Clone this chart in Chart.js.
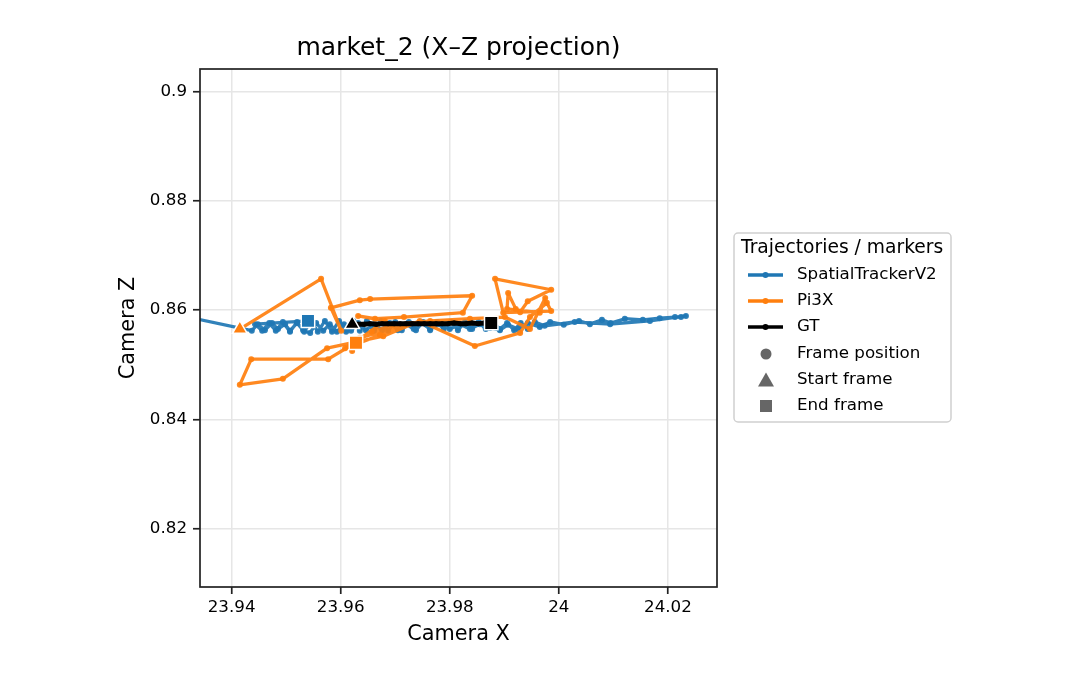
<!DOCTYPE html>
<html>
<head>
<meta charset="utf-8">
<script src="https://cdn.jsdelivr.net/npm/chart.js@4.4.1/dist/chart.umd.min.js"></script>
<style>
  html, body { margin: 0; padding: 0; background: #fff; }
  #canvas { display: block; }
</style>
</head>
<body>
<canvas id="canvas" width="1080" height="690"></canvas>
<script>
// Trajectory data (camera X / camera Z)
const stX = [23.9250, 23.9437, 23.9448, 23.9461, 23.9474, 23.9485, 23.9498, 23.9507, 23.9520, 23.9531,
  23.9544, 23.9555, 23.9568, 23.9580, 23.9593, 23.9606, 23.9619, 23.9632, 23.9646, 23.9661,
  23.9676, 23.9690, 23.9705, 23.9720, 23.9734, 23.9749, 23.9764, 23.9782, 23.9800, 23.9819,
  23.9837, 23.9855, 23.9874, 23.9892, 23.9907, 23.9925, 23.9943, 23.9965, 23.9984, 24.0009,
  24.0037, 24.0057, 24.0079, 24.0095, 24.0121, 24.0154, 24.0185, 24.0213, 24.0224, 24.0233,
  24.0167, 24.0094, 24.0029, 23.9974, 23.9956, 23.9943, 23.9930, 23.9918, 23.9905, 23.9892,
  23.9879, 23.9866, 23.9853, 23.9841, 23.9828, 23.9815, 23.9802, 23.9789, 23.9777, 23.9764,
  23.9751, 23.9738, 23.9725, 23.9712, 23.9700, 23.9687, 23.9674, 23.9661, 23.9648, 23.9635,
  23.9623, 23.9610, 23.9597, 23.9584, 23.9571, 23.9558, 23.9546, 23.9533, 23.9520, 23.9507,
  23.9494, 23.9481, 23.9469, 23.9456, 23.9443, 23.9540];
const stZ = [0.8602, 0.8562, 0.8574, 0.8563, 0.8576, 0.8565, 0.8574, 0.8562, 0.8576, 0.8563,
  0.8558, 0.8576, 0.8562, 0.8574, 0.8560, 0.8574, 0.8562, 0.8576, 0.8563, 0.8574,
  0.8563, 0.8576, 0.8563, 0.8574, 0.8565, 0.8576, 0.8565, 0.8574, 0.8565, 0.8574,
  0.8565, 0.8574, 0.8567, 0.8563, 0.8573, 0.8565, 0.8576, 0.8569, 0.8578, 0.8573,
  0.8580, 0.8574, 0.8582, 0.8576, 0.8584, 0.8582, 0.8585, 0.8587, 0.8587, 0.8589,
  0.8580, 0.8574, 0.8578, 0.8571, 0.8578, 0.8565, 0.8576, 0.8563, 0.8576, 0.8565,
  0.8578, 0.8565, 0.8578, 0.8565, 0.8578, 0.8563, 0.8578, 0.8565, 0.8578, 0.8563,
  0.8578, 0.8563, 0.8578, 0.8563, 0.8578, 0.8562, 0.8580, 0.8562, 0.8580, 0.8562,
  0.8580, 0.8560, 0.8580, 0.8560, 0.8580, 0.8560, 0.8580, 0.8560, 0.8578, 0.8560,
  0.8578, 0.8562, 0.8576, 0.8562, 0.8574, 0.8580];

const piX = [23.9415, 23.9564, 23.9601, 23.9582, 23.9635, 23.9654, 23.9841, 23.9824, 23.9716, 23.9663,
  23.9632, 23.9681, 23.9617, 23.9577, 23.9436, 23.9415, 23.9494, 23.9575, 23.9678, 23.9745,
  23.9846, 23.9929, 23.9947, 23.9978, 23.9986, 23.9898, 23.9883, 23.9986, 23.9943, 23.9929,
  23.9921, 23.9907, 23.9905, 23.9965, 23.9975, 23.9947, 23.9901, 23.9837, 23.9764, 23.9696,
  23.9657, 23.9608, 23.9672, 23.9718, 23.9635, 23.9621, 23.9628];
const piZ = [0.8565, 0.8657, 0.8562, 0.8604, 0.8618, 0.8620, 0.8626, 0.8595, 0.8587, 0.8584,
  0.8589, 0.8580, 0.8534, 0.8510, 0.8510, 0.8463, 0.8474, 0.8530, 0.8552, 0.8580,
  0.8534, 0.8558, 0.8587, 0.8613, 0.8598, 0.8595, 0.8657, 0.8637, 0.8616, 0.8596,
  0.8602, 0.8631, 0.8602, 0.8595, 0.8622, 0.8565, 0.8587, 0.8584, 0.8580, 0.8573,
  0.8560, 0.8530, 0.8554, 0.8573, 0.8549, 0.8525, 0.8540];

const gtX = [23.9621, 23.9632, 23.9643, 23.9654, 23.9665, 23.9676, 23.9687, 23.9698, 23.9709, 23.9720,
  23.9731, 23.9742, 23.9753, 23.9764, 23.9775, 23.9786, 23.9797, 23.9808, 23.9819, 23.9830,
  23.9841, 23.9852, 23.9863, 23.9876];
const gtZ = [0.8574, 0.8574, 0.8574, 0.8575, 0.8574, 0.8575, 0.8575, 0.8575, 0.8575, 0.8575,
  0.8575, 0.8575, 0.8575, 0.8575, 0.8575, 0.8575, 0.8575, 0.8576, 0.8575, 0.8575,
  0.8576, 0.8575, 0.8576, 0.8576];

const xTicks = [23.94, 23.96, 23.98, 24.0, 24.02];
const yTicks = [0.82, 0.84, 0.86, 0.88, 0.9];

const BLUE = "#1f77b4";
const ORANGE = "#ff7f0e";
const FONT = "DejaVu Sans";

// zip x/z arrays into points
function pts(xs, zs) {
  return xs.map((x, i) => ({ x: x, y: zs[i] }));
}
function first(xs, zs) {
  return { x: xs[0], y: zs[0] };
}
function last(xs, zs) {
  return { x: xs[xs.length - 1], y: zs[zs.length - 1] };
}

function trajectory(label, xs, zs, color, width, radius, order) {
  return {
    label: label,
    data: pts(xs, zs),
    showLine: true,
    borderColor: color,
    backgroundColor: color,
    borderWidth: width,
    borderJoinStyle: "round",
    borderCapStyle: "round",
    pointRadius: radius,
    pointBorderWidth: 0,
    pointBackgroundColor: color,
    pointHoverRadius: radius,
    clip: 0,
    order: order,
  };
}

function marker(label, points, colors, style, radius) {
  return {
    label: label,
    data: points,
    showLine: false,
    pointStyle: style,
    pointRadius: radius,
    pointHoverRadius: radius,
    pointBackgroundColor: colors,
    pointBorderColor: "#ffffff",
    pointBorderWidth: 1.5,
    clip: 0,
    order: 0,
  };
}

// background, title, axis titles, frame and legend
const decor = {
  id: "decor",
  beforeDraw(chart) {
    const ctx = chart.ctx;
    ctx.save();
    ctx.fillStyle = "#fff";
    ctx.fillRect(0, 0, chart.width, chart.height);
    ctx.restore();
  },
  afterDatasetsDraw(chart) {
    const ctx = chart.ctx;
    const a = chart.chartArea;
    ctx.save();
    ctx.strokeStyle = "#222";
    ctx.lineWidth = 1.7;
    ctx.strokeRect(a.left, a.top, a.right - a.left, a.bottom - a.top);

    const cx = (a.left + a.right) / 2;
    ctx.fillStyle = "#000";
    ctx.textAlign = "center";
    ctx.textBaseline = "middle";
    ctx.font = "25px '" + FONT + "'";
    ctx.fillText("market_2 (X\u2013Z projection)", cx, 48);

    ctx.font = "20.8px '" + FONT + "'";
    ctx.fillText("Camera X", cx, 635);
    ctx.save();
    ctx.translate(129, (a.top + a.bottom) / 2);
    ctx.rotate(-Math.PI / 2);
    ctx.fillText("Camera Z", 0, 0);
    ctx.restore();

    drawLegend(ctx);
    ctx.restore();
  },
};

function drawLegend(ctx) {
  const bx = 734, by = 233, bw = 217, bh = 189, r = 4;
  ctx.beginPath();
  ctx.moveTo(bx + r, by);
  ctx.arcTo(bx + bw, by, bx + bw, by + bh, r);
  ctx.arcTo(bx + bw, by + bh, bx, by + bh, r);
  ctx.arcTo(bx, by + bh, bx, by, r);
  ctx.arcTo(bx, by, bx + bw, by, r);
  ctx.closePath();
  ctx.fillStyle = "rgba(255,255,255,0.85)";
  ctx.fill();
  ctx.strokeStyle = "#d0d0d0";
  ctx.lineWidth = 1.5;
  ctx.stroke();

  ctx.fillStyle = "#000";
  ctx.textAlign = "left";
  ctx.textBaseline = "middle";
  ctx.font = "18.7px '" + FONT + "'";
  ctx.fillText("Trajectories / markers", 741, 248);

  ctx.font = "16.7px '" + FONT + "'";
  const lines = [
    ["SpatialTrackerV2", BLUE, 275],
    ["Pi3X", ORANGE, 301],
    ["GT", "#000", 327],
  ];
  lines.forEach(([txt, col, y]) => {
    ctx.strokeStyle = col;
    ctx.lineWidth = 3.5;
    ctx.beginPath();
    ctx.moveTo(748, y);
    ctx.lineTo(783, y);
    ctx.stroke();
    ctx.fillStyle = col;
    ctx.beginPath();
    ctx.arc(765.5, y, 3, 0, Math.PI * 2);
    ctx.fill();
    ctx.fillStyle = "#000";
    ctx.fillText(txt, 797, y);
  });

  ctx.fillStyle = "#666";
  ctx.beginPath();
  ctx.arc(766, 354, 5.5, 0, Math.PI * 2);
  ctx.fill();
  ctx.beginPath();
  ctx.moveTo(766, 372.5);
  ctx.lineTo(774, 386.5);
  ctx.lineTo(758, 386.5);
  ctx.closePath();
  ctx.fill();
  ctx.fillRect(760, 400, 12, 12);

  ctx.fillStyle = "#000";
  ctx.fillText("Frame position", 797, 354);
  ctx.fillText("Start frame", 797, 380);
  ctx.fillText("End frame", 797, 406);
}

const tickFont = { family: FONT, size: 16.7 };
const fmt = (v) => String(+v.toFixed(2));

new Chart(document.getElementById("canvas").getContext("2d"), {
  type: "scatter",
  data: {
    datasets: [
      marker("Start frame",
        [first(stX, stZ), first(piX, piZ), first(gtX, gtZ)],
        [BLUE, ORANGE, "#000"], "triangle", 8.5),
      marker("End frame",
        [last(stX, stZ), last(piX, piZ), last(gtX, gtZ)],
        [BLUE, ORANGE, "#000"], "rect", 9.5),
      trajectory("GT", gtX, gtZ, "#000", 5, 2.5, 1),
      trajectory("Pi3X", piX, piZ, "rgba(255,127,14,0.92)", 3.3, 3, 2),
      trajectory("SpatialTrackerV2", stX, stZ, "rgba(31,119,180,0.92)", 3.3, 3, 3),
    ],
  },
  options: {
    responsive: false,
    animation: false,
    devicePixelRatio: 1,
    layout: { padding: { left: 0, top: 69, right: 363, bottom: 0 } },
    plugins: {
      legend: { display: false },
      title: { display: false },
      tooltip: { enabled: false },
    },
    scales: {
      x: {
        type: "linear",
        min: 23.9342,
        max: 24.029,
        afterFit: (s) => { s.height = 103; },
        afterBuildTicks: (s) => { s.ticks = xTicks.map((v) => ({ value: v })); },
        ticks: { callback: fmt, font: tickFont, color: "#000", padding: 4, maxRotation: 0, autoSkip: false },
        grid: { color: "#e6e6e6", lineWidth: 1.5, tickLength: 7, tickColor: "#222", tickWidth: 1.7 },
        border: { display: false },
      },
      y: {
        type: "linear",
        min: 0.8093,
        max: 0.9041,
        afterFit: (s) => { s.width = 200; },
        afterBuildTicks: (s) => { s.ticks = yTicks.map((v) => ({ value: v })); },
        ticks: { callback: fmt, font: tickFont, color: "#000", padding: 6, autoSkip: false },
        grid: { color: "#e6e6e6", lineWidth: 1.5, tickLength: 7, tickColor: "#222", tickWidth: 1.7 },
        border: { display: false },
      },
    },
  },
  plugins: [decor],
});
</script>
</body>
</html>
